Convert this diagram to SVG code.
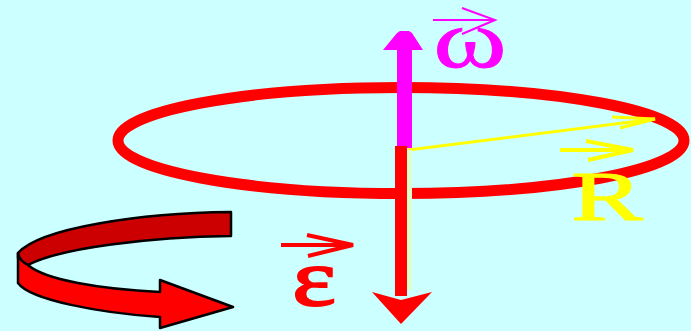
<svg xmlns="http://www.w3.org/2000/svg" width="691" height="331" viewBox="0 0 691 331">
<style>
.sym{font-family:"Liberation Serif","DejaVu Serif",serif;}
.vec{fill:none;stroke-linecap:butt;stroke-linejoin:miter;}
</style>
<rect x="0" y="0" width="691" height="331" fill="#CCFFFF"/>
<g id="rotation-arrow" stroke="#000" stroke-width="2.5" stroke-linejoin="round">
<path d="M231,212 C140,213 40,228 18,253 L18,258 C21,262 25,264 28,265 C60,248 150,237 231,236 Z" fill="#CC0000"/>
<path d="M18,253 L18,283 C30,300 100,313 160,317 L160,328 L233,307 L160,280 L160,292 C100,289 45,280 28,265 C24,263 19,259 18,253 Z" fill="#FF0000"/>
</g>
<g id="circle">
<ellipse cx="401" cy="140.5" rx="283" ry="53" fill="none" stroke="#FF0000" stroke-width="11"/>
</g>
<g id="connectors">
<g id="omega-arrow">
<polygon points="383,50 397,33 400,31 409,31 412,33 423,50 412,50 412,148 397,148 397,50" fill="#FF00FF"/>
</g>
<g id="radius">
<line x1="408" y1="150" x2="655" y2="119" stroke="#FFFF00" stroke-width="3"/>
<polyline points="612,117 655,119 620,128" stroke="#FFFF00" stroke-width="3" class="vec"/>
</g>
<g id="epsilon-arrow">
<rect x="407" y="150" width="5" height="140" fill="#DDFFCC"/>
<rect x="395" y="146" width="12" height="150" fill="#FF0000"/>
<polygon points="372,292 401,324 432,292 401,300" fill="#FF0000"/>
</g>
</g>
<g id="label-omega">
<polyline points="433,20 495,20" stroke="#FF00FF" stroke-width="2" class="vec"/>
<polyline points="462,8 495,20 462,34" stroke="#FF00FF" stroke-width="2" class="vec"/>
<text class="sym" x="0" y="0" font-size="82" fill="#FF00FF" stroke="#FF00FF" stroke-width="0.8" transform="translate(470,67) scale(1.36,1)" text-anchor="middle">ω</text>
</g>
<g id="label-R">
<polyline points="560,150 633,150" stroke="#FFFF00" stroke-width="4" class="vec"/>
<polyline points="586,141 633,150 588,160" stroke="#FFFF00" stroke-width="4" class="vec"/>
<text class="sym" x="0" y="0" font-size="69" fill="#FFFF00" stroke="#FFFF00" stroke-width="1.2" transform="translate(607,220) scale(1.55,1)" text-anchor="middle">R</text>
</g>
<g id="label-epsilon">
<polyline points="281,245 353,245" stroke="#FF0000" stroke-width="4" class="vec"/>
<polyline points="307,235 353,245 308,256" stroke="#FF0000" stroke-width="4" class="vec"/>
<text class="sym" x="0" y="0" font-size="80" fill="#FF0000" stroke="#FF0000" stroke-width="2" transform="translate(314,305) scale(1.3,1)" text-anchor="middle">ε</text>
</g>
</svg>
